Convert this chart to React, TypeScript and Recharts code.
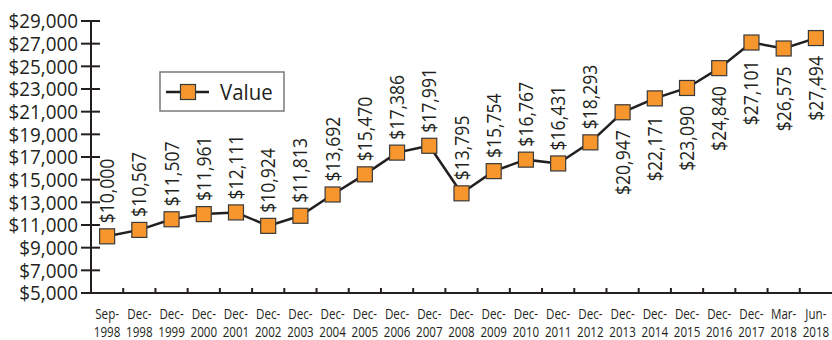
import React from 'react';
import { LineChart, Line, XAxis, YAxis, LabelList } from 'recharts';

const periods = [
  'Sep-1998', 'Dec-1998', 'Dec-1999', 'Dec-2000', 'Dec-2001', 'Dec-2002', 'Dec-2003',
  'Dec-2004', 'Dec-2005', 'Dec-2006', 'Dec-2007', 'Dec-2008', 'Dec-2009', 'Dec-2010',
  'Dec-2011', 'Dec-2012', 'Dec-2013', 'Dec-2014', 'Dec-2015', 'Dec-2016', 'Dec-2017',
  'Mar-2018', 'Jun-2018',
];
const values = [
  10000, 10567, 11507, 11961, 12111, 10924, 11813, 13692, 15470, 17386, 17991, 13795,
  15754, 16767, 16431, 18293, 20947, 22171, 23090, 24840, 27101, 26575, 27494,
];
const yTicks = [5000, 7000, 9000, 11000, 13000, 15000, 17000, 19000, 21000, 23000, 25000, 27000, 29000];
const seriesName = 'Value';
const firstLabelBelowIndex = 16;

const data = periods.map((p, i) => ({ idx: i, period: p, value: values[i] }));
const xTickValues = periods.map((_, i) => i);

const W = 832;
const H = 340;
const PLOT_LEFT = 91;
const PLOT_TOP = 21;
const PLOT_BOTTOM = 293;
const BAND = (W - PLOT_LEFT) / periods.length;
const INK = '#231F20';
const ORANGE = '#F7962C';
const MAIN_FONT = '"Open Sans", "Noto Sans", sans-serif';

const fmt = (v: number) => '$' + v.toLocaleString('en-US');

const YTick = (props: any) => {
  const { y, payload } = props;
  return (
    <g>
      <line x1={PLOT_LEFT - 10} x2={PLOT_LEFT + 9} y1={y} y2={y} stroke={INK} strokeWidth={2} />
      <g transform={`translate(${PLOT_LEFT - 13}, ${y}) scale(0.92, 1)`}>
        <text x={0} y={0} dy="0.36em" textAnchor="end" fontFamily={MAIN_FONT} fontSize={20.5} fill={INK}>
          {fmt(payload.value)}
        </text>
      </g>
    </g>
  );
};

const XTick = (props: any) => {
  const { x, payload } = props;
  const i = payload.value as number;
  const label = periods[i] || '';
  const [a, b] = label.split('-');
  return (
    <g>
      {i < periods.length - 1 && (
        <line x1={x + BAND / 2} x2={x + BAND / 2} y1={PLOT_BOTTOM} y2={PLOT_BOTTOM - 5} stroke={INK} strokeWidth={2} />
      )}
      <g transform={`translate(${x}, 0) scale(0.8, 1)`}>
        <text x={0} y={PLOT_BOTTOM + 26.5} textAnchor="middle" fontFamily={MAIN_FONT} fontSize={14.5} fill={INK}>
          {a + '-'}
        </text>
        <text x={0} y={PLOT_BOTTOM + 44.5} textAnchor="middle" fontFamily={MAIN_FONT} fontSize={14.5} fill={INK}>
          {b}
        </text>
      </g>
    </g>
  );
};

const SquareDot = (props: any) => {
  const { cx, cy } = props;
  if (cx == null || cy == null) return null;
  return <rect x={cx - 7.5} y={cy - 7.5} width={15} height={15} fill={ORANGE} stroke="#3A3A3A" strokeWidth={1.2} />;
};

const ValueLabel = (props: any) => {
  const { x, y, value } = props;
  let index = props.index;
  if (index == null) index = values.indexOf(value);
  const below = index >= firstLabelBelowIndex;
  const ty = below ? y + 18 : y - 13;
  return (
    <g transform={`translate(${x}, ${ty}) rotate(-90) scale(0.9, 1)`}>
      <text
        x={0}
        y={0}
        dy="0.36em"
        textAnchor={below ? 'end' : 'start'}
        fontFamily={MAIN_FONT}
        fontSize={19.5}
        fill={INK}
      >
        {fmt(value)}
      </text>
    </g>
  );
};

export default function App() {
  return (
    <div style={{ position: 'absolute', left: 0, top: 0, width: W, height: H, background: '#fff' }}>
      <LineChart width={W} height={H} data={data} margin={{ top: PLOT_TOP, right: 0, bottom: 0, left: 0 }}>
        <XAxis
          dataKey="idx"
          type="number"
          domain={[-0.5, periods.length - 0.5]}
          ticks={xTickValues}
          interval={0}
          height={H - PLOT_BOTTOM}
          axisLine={{ stroke: INK, strokeWidth: 2 }}
          tickLine={false}
          tick={<XTick />}
        />
        <YAxis
          type="number"
          domain={[5000, 29000]}
          ticks={yTicks}
          interval={0}
          width={PLOT_LEFT}
          axisLine={{ stroke: INK, strokeWidth: 2 }}
          tickLine={false}
          tick={<YTick />}
        />
        <Line
          type="linear"
          dataKey="value"
          name={seriesName}
          stroke={INK}
          strokeWidth={2.5}
          dot={<SquareDot />}
          activeDot={false}
          isAnimationActive={false}
        >
          <LabelList dataKey="value" content={<ValueLabel />} />
        </Line>
      </LineChart>
      <div style={{ position: 'absolute', left: 159, top: 71, width: 127, height: 42 }}>
        <svg width={127} height={42}>
          <rect x={1} y={1} width={124} height={39} fill="#fff" stroke="#7A7A7A" strokeWidth={1.5} />
          <line x1={7} x2={50} y1={21} y2={21} stroke={INK} strokeWidth={2.5} />
          <rect x={21.5} y={13.5} width={15} height={15} fill={ORANGE} stroke="#3A3A3A" strokeWidth={1.2} />
          <g transform="translate(61, 28.5) scale(0.95, 1)">
            <text x={0} y={0} fontFamily={MAIN_FONT} fontSize={21.5} fill={INK}>
              {seriesName}
            </text>
          </g>
        </svg>
      </div>
    </div>
  );
}
